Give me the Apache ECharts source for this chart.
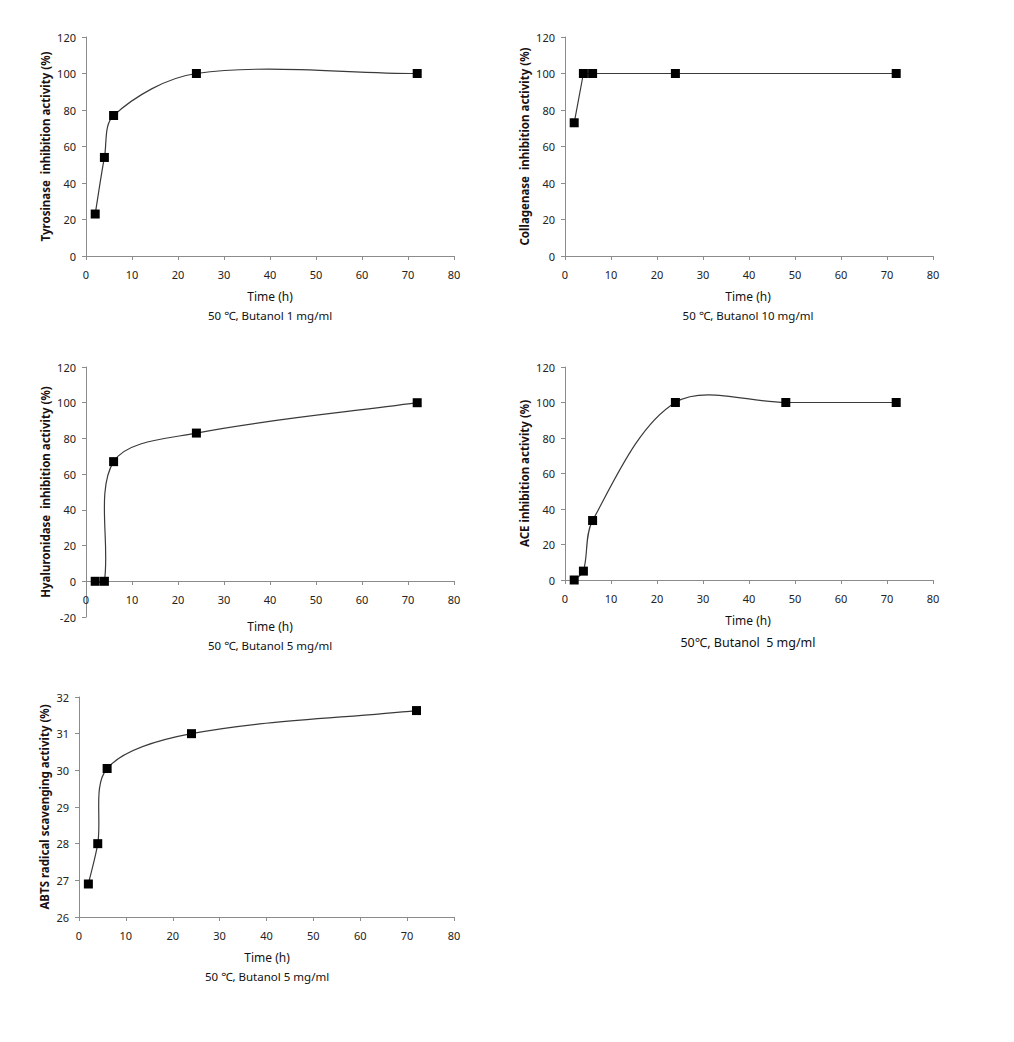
<!DOCTYPE html>
<html>
<head>
<meta charset="utf-8">
<script src="https://cdn.jsdelivr.net/npm/echarts@6/dist/echarts.min.js"></script>
<style>html,body{margin:0;padding:0;background:#fff}#c{width:1014px;height:1042px}</style>
</head>
<body>
<div id="c"></div>
<script>
// ---- data ----
var timeTyro = [2, 4, 6, 24, 72];
var tyrosinase = [23, 54, 77, 100, 100];
var timeColl = [2, 4, 6, 24, 72];
var collagenase = [73, 100, 100, 100, 100];
var timeHyal = [2, 4, 6, 24, 72];
var hyaluronidase = [0, 0, 67, 83, 100];
var timeAce = [2, 4, 6, 24, 48, 72];
var ace = [0, 5, 33.5, 100, 100, 100];
var timeAbts = [2, 4, 6, 24, 72];
var abts = [26.9, 28.0, 30.05, 31.0, 31.63];

var yNames = ['Tyrosinase  inhibition activity (%)', 'Collagenase  inhibition activity (%)',
  'Hyaluronidase  inhibition activity (%)', 'ACE inhibition activity (%)', 'ABTS radical scavenging activity (%)'];
var subtitles = ['50 \u2103, Butanol 1 mg/ml', '50 \u2103, Butanol 10 mg/ml', '50 \u2103, Butanol 5 mg/ml',
  '50\u2103, Butanol  5 mg/ml', '50 \u2103, Butanol 5 mg/ml'];
var xTicksMin = 0, xTicksMax = 80, xTicksStep = 10;
var yMin = [0, 0, -20, 0, 26];
var yMax = [120, 120, 120, 120, 32];
var yInt = [20, 20, 20, 20, 1];

var xs = [timeTyro, timeColl, timeHyal, timeAce, timeAbts];
var ys = [tyrosinase, collagenase, hyaluronidase, ace, abts];
var smoothCurve = [true, false, true, true, true];

// ---- layout ----
var grids = [
  {left: 86, top: 37, width: 368, height: 219},
  {left: 565, top: 37, width: 368, height: 219},
  {left: 86, top: 367, width: 368, height: 250},
  {left: 565, top: 367, width: 368, height: 213},
  {left: 79, top: 697, width: 375, height: 220}
];
var xAxisOffset = [0, 0, -36, 0, 0];
var yNameGap = [35, 35, 35, 35, 29];
var timePos = [[270, 299], [748, 299], [270, 629], [748, 623], [267, 960]];
var subPos = [[270, 318], [748, 318], [270, 648], [748, 645], [267, 979]];
var subSize = [11.5, 11.5, 11.5, 12.5, 11.5];

var FONT = 'Noto Sans';
var axisGray = '#8c8c8c';
var lineColor = '#3a3a3a';

// Excel-like smoothed curve through the points (Bezier, tension 1/6 scaled by segment lengths)
function makeCurveRenderer(si) {
  return function (params, api) {
    if (params.dataIndex !== 0) return null;
    var P = xs[si].map(function (x, k) { return api.coord([x, ys[si][k]]); });
    var n = P.length, children = [];
    function d(a, b) { return Math.sqrt((a[0]-b[0])*(a[0]-b[0]) + (a[1]-b[1])*(a[1]-b[1])); }
    for (var k = 0; k < n - 1; k++) {
      var p0 = P[Math.max(k - 1, 0)], p1 = P[k], p2 = P[k + 1], p3 = P[Math.min(k + 2, n - 1)];
      var d01 = d(p0, p1), d12 = d(p1, p2), d23 = d(p2, p3);
      var r1 = d12 / ((d01 + d12) || 1) / 3, r2 = d12 / ((d12 + d23) || 1) / 3;
      var c1 = [p1[0] + (p2[0] - p0[0]) * r1, p1[1] + (p2[1] - p0[1]) * r1];
      var c2 = [p2[0] - (p3[0] - p1[0]) * r2, p2[1] - (p3[1] - p1[1]) * r2];
      children.push({
        type: 'bezierCurve', silent: true,
        shape: {x1: p1[0], y1: p1[1], cpx1: c1[0], cpy1: c1[1], cpx2: c2[0], cpy2: c2[1], x2: p2[0], y2: p2[1]},
        style: {stroke: lineColor, lineWidth: 1.2, fill: null}
      });
    }
    return {type: 'group', children: children};
  };
}

var option = {
  backgroundColor: '#fff',
  animation: false,
  grid: grids.map(function (g) { return Object.assign({containLabel: false}, g); }),
  title: [],
  xAxis: [], yAxis: [], series: []
};

for (var i = 0; i < 5; i++) {
  option.xAxis.push({
    type: 'value', gridIndex: i, min: xTicksMin, max: xTicksMax, interval: xTicksStep,
    offset: xAxisOffset[i],
    axisLine: {show: true, onZero: false, lineStyle: {color: axisGray, width: 1}},
    axisTick: {show: true, length: 4, lineStyle: {color: axisGray}},
    axisLabel: {color: '#222', fontFamily: FONT, fontSize: 11, margin: 13},
    splitLine: {show: false}
  });
  option.yAxis.push({
    type: 'value', gridIndex: i, min: yMin[i], max: yMax[i], interval: yInt[i],
    name: yNames[i], nameLocation: 'middle', nameRotate: 90, nameGap: yNameGap[i],
    nameTextStyle: {color: '#1a1010', fontFamily: FONT, fontSize: 11.5, fontWeight: 'bold'},
    axisLine: {show: true, lineStyle: {color: axisGray, width: 1}},
    axisTick: {show: true, length: 4, lineStyle: {color: axisGray}},
    axisLabel: {color: '#222', fontFamily: FONT, fontSize: 11, margin: 10},
    splitLine: {show: false}
  });
  var pts = xs[i].map(function (x, k) { return [x, ys[i][k]]; });
  if (smoothCurve[i]) {
    option.series.push({
      type: 'custom', xAxisIndex: i, yAxisIndex: i, data: pts, z: 2,
      renderItem: makeCurveRenderer(i), silent: true
    });
  }
  option.series.push({
    type: 'line', xAxisIndex: i, yAxisIndex: i, data: pts, z: 3,
    smooth: false,
    symbol: 'rect', symbolSize: 9,
    itemStyle: {color: '#000'},
    lineStyle: smoothCurve[i] ? {opacity: 0, width: 0} : {color: lineColor, width: 1.2}
  });
  option.title.push({
    text: 'Time (h)', left: timePos[i][0], top: timePos[i][1] - 9, textAlign: 'center',
    textStyle: {color: '#111', fontFamily: FONT, fontSize: 12, fontWeight: 'normal'}, padding: 0
  });
  option.title.push({
    text: subtitles[i], left: subPos[i][0], top: subPos[i][1] - 9, textAlign: 'center',
    textStyle: {color: '#111', fontFamily: FONT, fontSize: subSize[i], fontWeight: 'normal'}, padding: 0
  });
}

var chart = echarts.init(document.getElementById('c'), null, {renderer: 'svg'});
chart.setOption(option);
</script>
</body>
</html>
